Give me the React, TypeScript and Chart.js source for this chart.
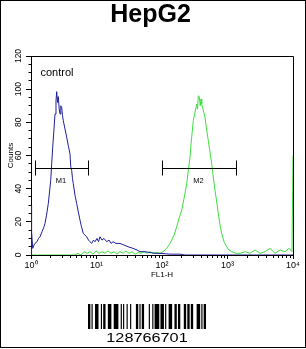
import React, { useEffect, useRef } from "react";
import { Chart, registerables } from "chart.js";

Chart.register(...registerables);

const FONT = "'Liberation Sans', Arial, Helvetica, sans-serif";

// ---- text ----
const titleText = "HepG2";
const xAxisTitle = "FL1-H";
const yAxisTitle = "Counts";
const controlLabel = "control";

// ---- axes ----
const xDecades = [1, 10, 100, 1000, 10000];
const xDecadeLabels = ["10\u2070", "10\u00B9", "10\u00B2", "10\u00B3", "10\u2074"];
const xMinorSignificands = [2, 3, 4, 5, 6, 7, 8, 9];
const yMajorTicks = [0, 20, 40, 60, 80, 100, 120];

// ---- control histogram (blue) ----
const controlFL1 = [1.012, 1.012, 1.028, 1.062, 1.111, 1.151, 1.235, 1.302, 1.372, 1.472, 1.579, 1.636, 1.725, 1.837, 1.917, 1.999, 2.07, 2.145, 2.245, 2.325, 2.408, 2.468, 2.538, 2.61, 2.695, 2.772, 2.851, 2.943, 3.027, 3.113, 3.304, 3.508, 3.71, 3.939, 4.051, 4.181, 4.3, 4.423, 4.697, 4.985, 5.274, 5.599, 5.902, 6.288, 6.675, 7.086, 7.547, 7.957, 8.448, 9.0, 9.487, 10.18, 10.73, 11.31, 12.13, 13.02, 14.31, 15.51, 16.65, 17.86, 19.85, 22.85, 26.29, 30.26, 36.08, 41.53, 46.14, 55.02, 65.6, 78.18, 93.22, 132.5, 188.3, 224.4, 10000];
const controlCounts = [0, 30, 14, 4, 6, 7, 8, 10, 11, 14, 17, 19, 24, 31, 38, 45, 55, 65, 76, 85, 93, 98.5, 92, 95.5, 88, 85, 90, 89, 84, 81, 76, 71, 66, 61, 53, 51, 46, 43, 36, 31, 26, 21, 17, 13, 12, 11, 9, 8, 7, 9, 8, 10, 8, 11, 9, 10, 8, 9, 7, 8, 7, 7, 6, 5, 4, 3, 2, 2, 1.5, 1, 1, 0.5, 0.5, 0, 0];

// ---- HepG2 sample histogram (green) ----
const sampleFL1 = [1.0, 4.697, 5.22, 5.8, 6.445, 7.161, 7.957, 8.842, 9.826, 10.92, 12.13, 13.48, 14.98, 16.65, 18.5, 20.56, 22.85, 25.39, 28.21, 31.35, 34.83, 38.7, 43.01, 47.79, 53.11, 59.02, 65.6, 72.88, 80.99, 93.22, 103.6, 118.0, 127.9, 140.7, 152.5, 167.7, 181.8, 199.9, 216.7, 238.4, 253.9, 267.7, 282.2, 300.6, 319.0, 338.8, 348.3, 358.3, 371.1, 383.1, 394.0, 403.8, 422.7, 453.5, 478.1, 509.3, 540.6, 574.0, 607.2, 644.5, 684.2, 723.7, 768.3, 815.6, 884.5, 972.3, 1054, 1159, 1349, 1552, 1850, 2206, 2629, 3135, 3737, 4456, 5311, 6332, 7549, 8688, 9654, 10000];
const sampleCounts = [0, 0, 1, 0, 2, 1, 2, 0.5, 2.5, 1, 2, 1, 2.5, 1, 2, 0.5, 2, 1, 2.5, 1, 2, 0.5, 1.5, 1, 2, 1, 2, 1, 1.5, 1, 2, 4, 6, 9, 12, 17, 22, 27, 34, 43, 52, 59, 70, 81, 86, 91, 88, 96, 95.5, 90, 94, 91, 88, 83, 76, 69, 62, 55, 47, 39, 32, 25, 18, 13, 8, 5, 3, 2, 1, 1, 2, 1, 3, 1, 2, 4, 1, 3, 2, 4, 2, 60];

// ---- gates ----
const markerNames = ["M1", "M2"];
const markerStarts = [1.18, 102.5];
const markerEnds = [7.5, 1382];
const markerLevel = 52.3;

// ---- barcode ----
const barcodeText = "128766701";
const barcodeSymbols = ["211232", "112232", "421112", "121421", "112412", "114131", "123221", "232121", "2331112"];

const isDecade = (v: number) => {
  const l = Math.log10(v);
  return Math.abs(l - Math.round(l)) < 1e-6;
};
const al = (p: number) => Math.round(p - 0.5) + 0.5;

const decorPlugin = {
  id: "decor",
  beforeDraw(chart: any) {
    const ctx = chart.ctx;
    ctx.save();
    ctx.fillStyle = "#fff";
    ctx.fillRect(0, 0, chart.width, chart.height);
    ctx.restore();
  },
  afterDraw(chart: any) {
    const { ctx, chartArea: a, scales } = chart;
    const xs = scales.x;
    const ys = scales.y;
    ctx.save();
    ctx.strokeStyle = "#000";
    ctx.lineWidth = 1;

    // plot frame
    const L = al(a.left), R = al(a.right), T = al(a.top), B = al(a.bottom);
    ctx.beginPath();
    ctx.moveTo(L, T);
    ctx.lineTo(R, T);
    ctx.lineTo(R, B);
    ctx.stroke();

    // minor ticks
    ctx.beginPath();
    for (let d = 0; d < xDecades.length - 1; d++) {
      for (const m of xMinorSignificands) {
        const px = al(xs.getPixelForValue(m * xDecades[d]));
        ctx.moveTo(px, B);
        ctx.lineTo(px, B + 2.5);
      }
    }
    for (const t of ys.ticks) {
      if (yMajorTicks.includes(t.value)) continue;
      const py = al(ys.getPixelForValue(t.value));
      ctx.moveTo(L - 3, py);
      ctx.lineTo(L, py);
    }
    ctx.stroke();

    // gate markers
    ctx.fillStyle = "#000";
    ctx.font = `7.5px ${FONT}`;
    ctx.textAlign = "center";
    ctx.textBaseline = "middle";
    const my = al(ys.getPixelForValue(markerLevel));
    for (let i = 0; i < markerNames.length; i++) {
      const x0 = al(xs.getPixelForValue(markerStarts[i]));
      const x1 = al(xs.getPixelForValue(markerEnds[i]));
      ctx.beginPath();
      ctx.moveTo(x0, my);
      ctx.lineTo(x1, my);
      ctx.moveTo(x0, my - 8);
      ctx.lineTo(x0, my + 7);
      ctx.moveTo(x1, my - 8);
      ctx.lineTo(x1, my + 7);
      ctx.stroke();
      ctx.fillText(markerNames[i], (x0 + x1) / 2 - 1, my + 12);
    }

    // control label
    ctx.textAlign = "left";
    ctx.font = `11px ${FONT}`;
    ctx.fillText(controlLabel, a.left + 9.5, a.top + 16.5);

    // outer frame
    ctx.strokeRect(0.5, 0.5, 305, 347);

    // barcode
    const total = barcodeSymbols.join("").split("").reduce((s, c) => s + Number(c), 0);
    const bx0 = 88;
    const bx1 = 206;
    const mw = (bx1 - bx0) / total;
    let cx = bx0;
    for (const sym of barcodeSymbols) {
      let bar = true;
      for (const ch of sym) {
        const w = Number(ch) * mw;
        if (bar) ctx.fillRect(cx, 304, w, 25);
        cx += w;
        bar = !bar;
      }
    }
    ctx.save();
    ctx.translate((bx0 + bx1) / 2, 342);
    ctx.scale(1.25, 1);
    ctx.font = `13px ${FONT}`;
    ctx.textAlign = "center";
    ctx.textBaseline = "alphabetic";
    ctx.fillText(barcodeText, 0, 0);
    ctx.restore();

    ctx.restore();
  },
};

export default function App() {
  const ref = useRef<HTMLCanvasElement>(null);
  useEffect(() => {
    const canvas = ref.current;
    if (!canvas) return;
    const chart = new Chart(canvas, {
      type: "line",
      data: {
        datasets: [
          {
            label: "control",
            data: controlFL1.map((x, i) => ({ x, y: controlCounts[i] })),
            borderColor: "#1f1f9a",
            borderWidth: 1,
            pointRadius: 0,
            tension: 0,
            fill: false,
          },
          {
            label: "HepG2",
            data: sampleFL1.map((x, i) => ({ x, y: sampleCounts[i] })),
            borderColor: "#3ddf3d",
            borderWidth: 1,
            pointRadius: 0,
            tension: 0,
            fill: false,
          },
        ],
      },
      options: {
        responsive: false,
        animation: false,
        devicePixelRatio: 1,
        layout: { padding: { left: 8, right: 13, top: 0, bottom: 69 } },
        plugins: {
          legend: { display: false },
          tooltip: { enabled: false },
          title: {
            display: true,
            text: titleText,
            color: "#000",
            font: { size: 25, weight: "bold", family: FONT },
            padding: { top: 0.5, bottom: 25.5 },
          },
        },
        scales: {
          x: {
            type: "logarithmic",
            min: 1,
            max: 10000,
            ticks: {
              autoSkip: false,
              maxRotation: 0,
              minRotation: 0,
              padding: 1,
              color: "#000",
              font: { size: 9, family: FONT },
              callback: (v: any) => {
                const idx = xDecades.indexOf(Number(v));
                return idx >= 0 ? xDecadeLabels[idx] : "";
              },
            },
            grid: {
              display: true,
              drawOnChartArea: false,
              drawTicks: true,
              tickLength: 4,
              color: (c: any) => (c.tick && isDecade(c.tick.value) ? "#000" : "rgba(0,0,0,0)"),
            },
            border: { display: true, color: "#000", width: 1 },
            title: {
              display: true,
              text: xAxisTitle,
              color: "#000",
              font: { size: 8, family: FONT },
              padding: { top: 0, bottom: 0.5 },
            },
            afterFit: (s: any) => {
              s.height = 25;
            },
          },
          y: {
            type: "linear",
            min: 0,
            max: 120,
            ticks: {
              stepSize: 5,
              autoSkip: false,
              minRotation: 90,
              maxRotation: 90,
              crossAlign: "center",
              padding: 0,
              color: "#000",
              font: { size: 8.5, family: FONT },
              callback: (v: any) => (yMajorTicks.includes(Number(v)) ? String(v) : ""),
            },
            grid: {
              display: true,
              drawOnChartArea: false,
              drawTicks: true,
              tickLength: 5,
              color: (c: any) => (c.tick && yMajorTicks.includes(c.tick.value) ? "#000" : "rgba(0,0,0,0)"),
            },
            border: { display: true, color: "#000", width: 1 },
            title: {
              display: true,
              text: yAxisTitle,
              color: "#000",
              font: { size: 8, family: FONT },
              padding: { top: -2, bottom: 0 },
            },
            afterFit: (s: any) => {
              s.width = 23;
            },
          },
        },
      },
      plugins: [decorPlugin],
    } as any);
    return () => chart.destroy();
  }, []);

  return (
    <div style={{ position: "absolute", left: 0, top: 0, width: 306, height: 349, background: "#fff" }}>
      <canvas ref={ref} width={306} height={349} style={{ display: "block", width: 306, height: 349 }} />
    </div>
  );
}
